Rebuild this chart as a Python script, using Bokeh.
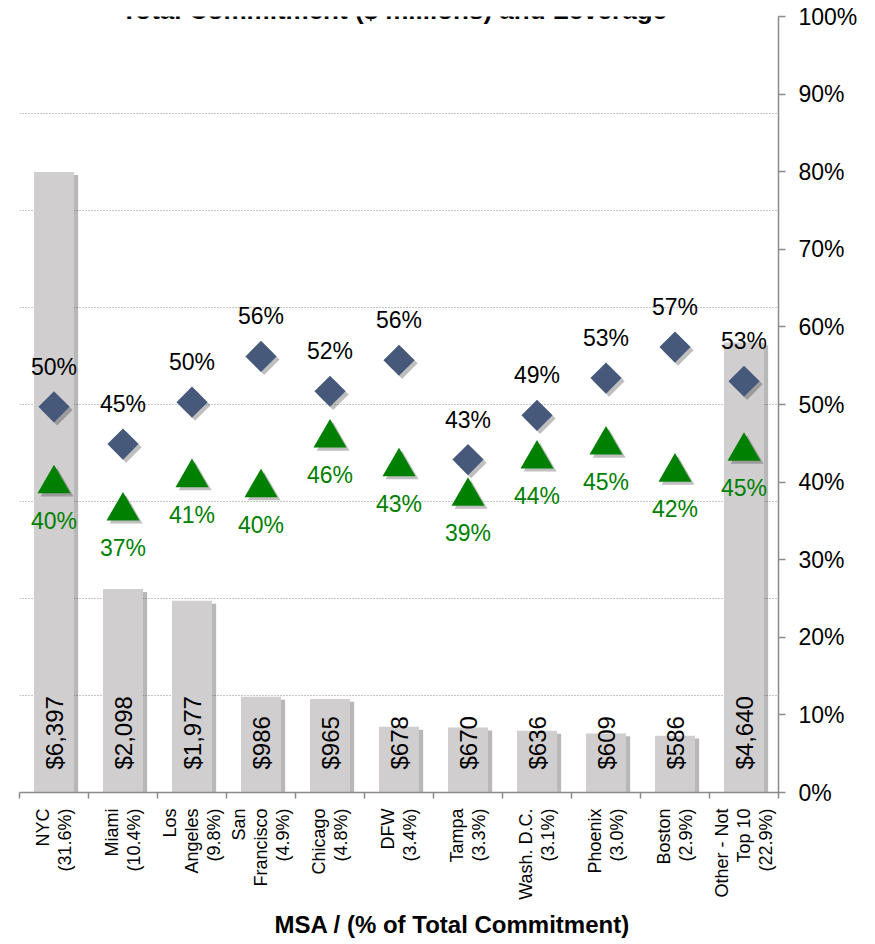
import math
from bokeh.plotting import figure
from bokeh.models import (Range1d, LinearAxis, Grid, SingleIntervalTicker, FixedTicker,
                          PrintfTickFormatter, CustomJSTickFormatter, ColumnDataSource, Label,
                          Title)
from bokeh.transform import dodge
from bokeh.core.properties import value
from bokeh.embed import file_html
from bokeh.resources import INLINE

# ---- data ----
msa = ["NYC\n(31.6%)", "Miami\n(10.4%)", "Los\nAngeles\n(9.8%)", "San\nFrancisco\n(4.9%)",
       "Chicago\n(4.8%)", "DFW\n(3.4%)", "Tampa\n(3.3%)", "Wash. D.C.\n(3.1%)",
       "Phoenix\n(3.0%)", "Boston\n(2.9%)", "Other - Not\nTop 10\n(22.9%)"]
commitment = [6397, 2098, 1977, 986, 965, 678, 670, 636, 609, 586, 4640]      # $ millions
leverage_diamond = [49.7, 44.9, 50.3, 56.2, 51.7, 55.7, 42.9, 48.6, 53.4, 57.4, 53.0]  # %
leverage_triangle = [40.4, 36.9, 41.2, 39.9, 46.3, 42.6, 38.8, 43.6, 45.4, 41.9, 44.6]  # %
pct_ticks_step = 10
amount_grid_step = 1000

FONT = "Liberation Sans"
n = len(msa)
slot = [i + 0.5 for i in range(n)]   # category slot centres on the x scale

src = ColumnDataSource(dict(
    slot=slot,
    commitment=commitment,
    lev_d=leverage_diamond,
    lev_t=leverage_triangle,
    amt_label=[f"${v:,}" for v in commitment],
    d_label=[f"{round(v)}%" for v in leverage_diamond],
    t_label=[f"{round(v)}%" for v in leverage_triangle],
))

p = figure(x_range=Range1d(0, n), y_range=Range1d(0, 8000),
           width=868, height=944, x_axis_location=None, y_axis_location=None,
           output_backend="svg", toolbar_location=None,
           min_border_left=19, min_border_right=90, min_border_top=16, min_border_bottom=152)
p.extra_y_ranges = {"pct": Range1d(0, 100)}
p.outline_line_color = None
p.background_fill_color = "white"
for g in p.xgrid + p.ygrid:
    g.visible = False

# gridlines (hidden $ axis)
p.add_layout(Grid(dimension=1, ticker=SingleIntervalTicker(interval=amount_grid_step, num_minor_ticks=0),
                  grid_line_color="#8c8c8c", grid_line_dash="1 2", grid_line_width=1.2))

# bars with shadow
p.vbar(x=dodge("slot", 0.06), top=dodge("commitment", -30), width=0.58,
       source=src, fill_color="black", fill_alpha=0.28, line_color=None)
p.vbar(x="slot", top="commitment", width=0.58, source=src,
       fill_color="#D0CECF", line_color=None)

# bar labels
p.text(x="slot", y=0, text="amt_label", source=src, angle=math.pi / 2,
       text_align="left", text_baseline="middle", y_offset=-23,
       text_font=value(FONT), text_font_size="24px", text_color="black")

# diamonds
p.scatter(x=dodge("slot", 0.045), y=dodge("lev_d", -0.4), source=src,
          marker="square", angle=math.pi / 4, size=22, fill_color="black", fill_alpha=0.25,
          line_color=None, y_range_name="pct")
p.scatter(x="slot", y="lev_d", source=src, marker="square", angle=math.pi / 4, size=22,
          fill_color="#46597A", line_color=None, y_range_name="pct")

# triangles
p.scatter(x=dodge("slot", 0.045), y=dodge("lev_t", -1.02), source=src,
          marker="triangle", size=33, fill_color="black", fill_alpha=0.25,
          line_color=None, y_range_name="pct")
p.scatter(x="slot", y=dodge("lev_t", -0.62), source=src, marker="triangle", size=33,
          fill_color="#008000", line_color=None, y_range_name="pct")

# value labels
p.text(x="slot", y="lev_d", text="d_label", source=src, y_offset=-40,
       text_align="center", text_baseline="middle", text_font=value(FONT),
       text_font_size="23px", text_color="black", y_range_name="pct")
p.text(x="slot", y="lev_t", text="t_label", source=src, y_offset=42,
       text_align="center", text_baseline="middle", text_font=value(FONT),
       text_font_size="23px", text_color="#008000", y_range_name="pct")

# bottom axes: boundary ticks + category labels
edge_axis = LinearAxis(ticker=FixedTicker(ticks=list(range(n + 1))),
                       formatter=CustomJSTickFormatter(code="return ''"),
                       axis_line_color="#8a8a8a", axis_line_width=1.5,
                       major_tick_line_color="#8a8a8a", major_tick_line_width=1.5,
                       major_tick_in=0, major_tick_out=6, minor_tick_line_color=None,
                       major_label_standoff=0, major_label_text_font_size="1px")
p.add_layout(edge_axis, "below")
cat_axis = LinearAxis(ticker=FixedTicker(ticks=slot),
                      formatter=CustomJSTickFormatter(args=dict(labels=msa),
                                                      code="return labels[Math.floor(tick)]"),
                      axis_line_color=None, major_tick_line_color=None,
                      major_tick_in=0, major_tick_out=0, minor_tick_line_color=None,
                      major_label_orientation=math.pi / 2,
                      major_label_text_font=FONT, major_label_text_font_size="18px",
                      major_label_text_line_height=1.1,
                      major_label_standoff=10, major_label_text_color="black")
p.add_layout(cat_axis, "below")

# x-axis title (placed below the category labels, shifted right as in the source)
p.add_layout(Title(text="MSA / (% of Total Commitment)", align="left", offset=255,
                   standoff=13, text_font=FONT, text_font_size="24px",
                   text_font_style="bold", text_color="black"), "below")

# right percentage axis
pct_axis = LinearAxis(y_range_name="pct",
                      ticker=SingleIntervalTicker(interval=pct_ticks_step, num_minor_ticks=0),
                      formatter=PrintfTickFormatter(format="%d%%"),
                      axis_line_color="#8a8a8a", axis_line_width=1.5,
                      major_tick_in=0, major_tick_out=7, major_tick_line_color="#8a8a8a",
                      major_tick_line_width=1.5, minor_tick_line_color=None,
                      major_label_standoff=13, major_label_text_font=FONT,
                      major_label_text_font_size="23px", major_label_text_color="black")
p.add_layout(pct_axis, "right")

# chart title (cut by the top edge, as in the source)
p.add_layout(Label(x=5.43, y=100.9, y_range_name="pct",
                   text="Total Commitment ($ millions) and Leverage",
                   text_align="center", text_baseline="alphabetic", text_font=FONT,
                   text_font_size="26px", text_font_style="bold", text_color="black"))

open("out.html", "w").write(file_html(p, INLINE))
